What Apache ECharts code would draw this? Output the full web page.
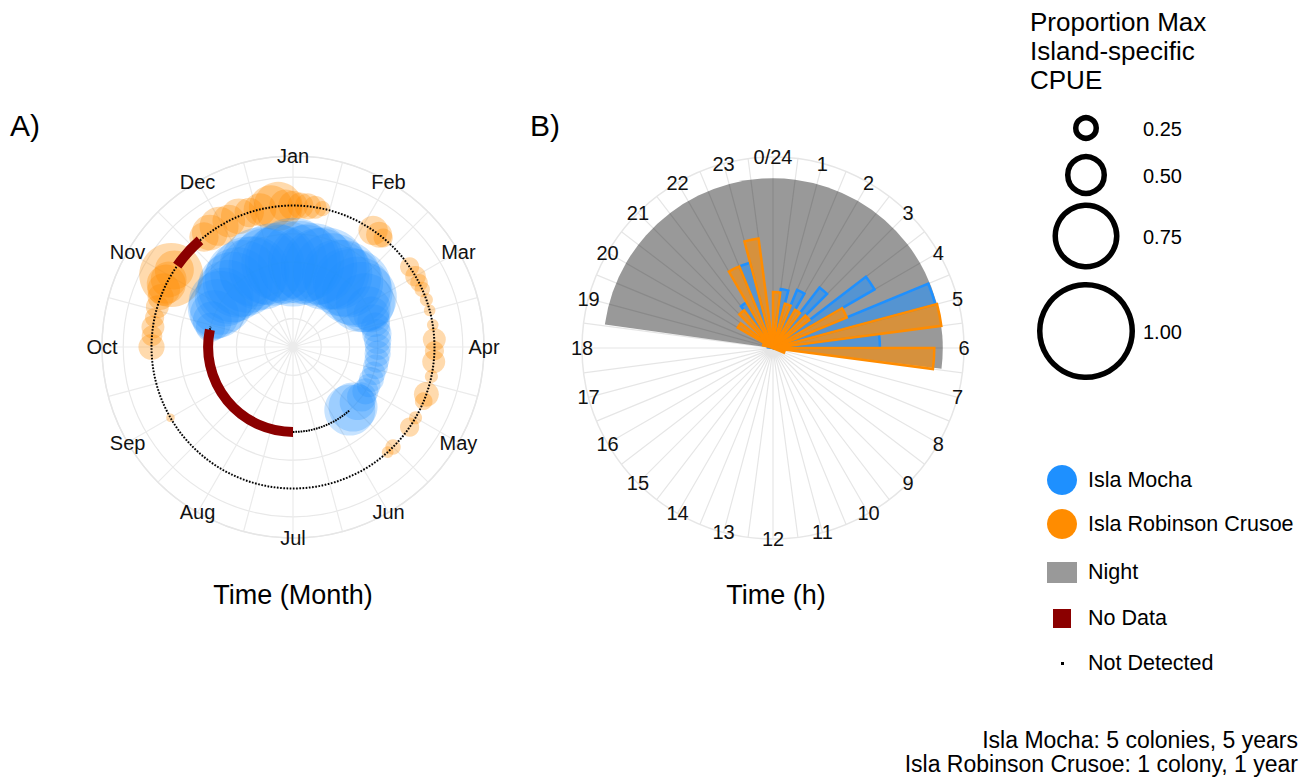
<!DOCTYPE html>
<html>
<head>
<meta charset="utf-8">
<script src="https://cdn.jsdelivr.net/npm/echarts@6/dist/echarts.min.js"></script>
<style>
  html, body { margin: 0; padding: 0; background: #fff; }
  #chart { width: 1306px; height: 778px; }
</style>
</head>
<body>
<div id="chart"></div>
<script>
// ---- panel A: month position (Jan = 0) and proportion of max island CPUE ----
const monthLabels = ['Jan', 'Feb', 'Mar', 'Apr', 'May', 'Jun', 'Jul', 'Aug', 'Sep', 'Oct', 'Nov', 'Dec'];

const mochaMonth = [9.45, 9.6, 9.75, 9.9, 10.05, 10.2, 10.35, 10.5, 10.65, 10.8, 10.95, 11.1, 11.25, 11.4, 11.55, 11.7, 11.85,
  0, 0.15, 0.3, 0.45, 0.6, 0.75, 0.9, 1.05, 1.2, 1.35, 1.5, 1.65, 1.8, 1.95, 2.1, 2.25, 2.4, 2.55, 2.7, 2.85,
  3.0, 3.15, 3.3, 3.45, 3.6, 3.75, 3.9, 4.05, 4.2, 4.35, 4.5, 4.6];
const mochaSize = [0.35, 0.5, 0.6, 0.7, 0.75, 0.7, 0.75, 0.8, 0.8, 0.85, 0.85, 0.8, 0.9, 0.85, 0.9, 0.85, 0.9,
  0.95, 0.9, 0.85, 0.9, 0.85, 0.9, 0.85, 0.8, 0.85, 0.8, 0.85, 0.8, 0.8, 0.7, 0.55, 0.45, 0.4, 0.35, 0.35, 0.32,
  0.3, 0.3, 0.28, 0.28, 0.26, 0.28, 0.26, 0.3, 0.35, 0.45, 0.6, 0.62];

const robinsonMonth = [8.0, 9.0, 9.15, 9.27, 9.4, 9.55, 9.69, 9.8, 9.88, 9.95, 10.02, 10.1, 10.7, 10.8, 10.95, 11.1,
  11.25, 11.4, 11.55, 11.7, 11.8, 11.9, 0.0, 0.1, 0.2, 0.3, 0.4, 1.15, 1.25, 1.32, 1.85, 2.0, 2.1, 2.2, 2.35, 2.5,
  2.7, 2.9, 3.05, 3.2, 3.4, 3.65, 3.75, 4.0, 4.15, 4.5, 4.6];
const robinsonSize = [0.06, 0.3, 0.22, 0.25, 0.2, 0.25, 0.3, 0.4, 0.5, 0.45, 0.75, 0.5, 0.35, 0.45, 0.5, 0.4,
  0.45, 0.35, 0.4, 0.55, 0.6, 0.4, 0.35, 0.3, 0.3, 0.25, 0.15, 0.35, 0.3, 0.2, 0.2, 0.22, 0.18, 0.15, 0.12, 0.1,
  0.1, 0.25, 0.2, 0.25, 0.12, 0.28, 0.18, 0.12, 0.2, 0.15, 0.1];

// [from, to] in months, drawn clockwise
const mochaNoData = [[6.0, 9.39]];
const mochaNotDetected = [[4.62, 6.0], [9.39, 9.46]];
const robinsonNoData = [[10.17, 10.63]];
const robinsonNotDetected = [[10.63, 10.17]];

// radial position of each island in panel A
const MOCHA_R = 1;
const ROBINSON_R = 2;

// ---- panel B: hour of day ----
const hourLabels = ['0/24', '1', '2', '3', '4', '5', '6', '7', '8', '9', '10', '11',
  '12', '13', '14', '15', '16', '17', '18', '19', '20', '21', '22', '23'];
const hourCats = hourLabels.map((t, i) => String(i));
const mochaHour = [0, 0.35, 0.37, 0.45, 0.69, 0.99, 0.63, 0.04, 0, 0, 0, 0,
  0, 0, 0, 0, 0, 0, 0, 0.03, 0.05, 0.1, 0.31, 0.52];
const robinsonHour = [0.33, 0.27, 0.26, 0.27, 0.47, 1.0, 0.95, 0.07, 0, 0, 0, 0,
  0, 0, 0, 0, 0, 0, 0, 0.06, 0.24, 0.28, 0.52, 0.65];
const night = [[18.53, 6.47]];

const sizeBreaks = [0.25, 0.5, 0.75, 1.0];
const sizeBreakLabels = ['0.25', '0.50', '0.75', '1.00'];

// ---- styling ----
const FONT = '"Liberation Sans", Arial, sans-serif';
const BLUE = '#1E90FF';
const ORANGE = '#FF8C00';
const A_MAX = 2.875;
const B_MAX = 1.125;

// proportion -> point diameter (px)
const sizeStops = [[0, 4], [0.25, 23], [0.5, 39], [0.75, 64], [1, 95]];
function sizePx(v) {
  for (let i = 1; i < sizeStops.length; i++) {
    if (v <= sizeStops[i][0]) {
      const [x0, y0] = sizeStops[i - 1];
      const [x1, y1] = sizeStops[i];
      return y0 + (y1 - y0) * (v - x0) / (x1 - x0);
    }
  }
  return sizeStops[sizeStops.length - 1][1];
}

function screenAngles(params, api) {
  const cs = params.coordSys;
  const p1 = api.coord([api.value(0), api.value(1)]);
  const p2 = api.coord([api.value(0), api.value(2)]);
  const r = Math.hypot(p1[0] - cs.cx, p1[1] - cs.cy);
  const a1 = Math.atan2(p1[1] - cs.cy, p1[0] - cs.cx);
  let a2 = Math.atan2(p2[1] - cs.cy, p2[0] - cs.cx);
  if (a2 <= a1) a2 += Math.PI * 2;
  return { cx: cs.cx, cy: cs.cy, r, a1, a2 };
}

function arcSeries(polarIndex, ranges, radius, style) {
  return {
    type: 'custom',
    coordinateSystem: 'polar',
    polarIndex,
    silent: true,
    z: 5,
    data: ranges.map(d => [radius, d[0], d[1]]),
    encode: { radius: 0, angle: 1 },
    renderItem: (params, api) => {
      const g = screenAngles(params, api);
      return {
        type: 'arc',
        shape: { cx: g.cx, cy: g.cy, r: g.r, startAngle: g.a1, endAngle: g.a2, clockwise: true },
        style: Object.assign({ fill: 'none' }, style)
      };
    }
  };
}

function labelSeries(polarIndex, labels, radius, step) {
  return {
    type: 'scatter',
    coordinateSystem: 'polar',
    polarIndex,
    silent: true,
    z: 6,
    symbolSize: 1,
    itemStyle: { color: 'rgba(0,0,0,0)', opacity: 1 },
    data: labels.map((t, i) => ({ name: t, value: [radius, i * step] })),
    label: { show: true, position: 'inside', formatter: '{b}', fontSize: 20, color: '#111', opacity: 1,
      fontFamily: FONT, textBorderWidth: 0 }
  };
}

const hiddenAxis = {
  axisLine: { show: false }, axisTick: { show: false }, axisLabel: { show: false }, splitLine: { show: false }
};

// legend graphics
const graphics = [];
function text(x, y, str, size, align, lineHeight) {
  graphics.push({
    type: 'text', x, y, silent: true,
    style: { text: str, font: size + 'px ' + FONT, fill: '#000', align: align || 'left', textAlign: align || 'left',
      verticalAlign: 'middle', textVerticalAlign: 'middle', lineHeight: lineHeight }
  });
}
text(10, 125, 'A)', 30);
text(530, 125, 'B)', 30);
text(293, 595, 'Time (Month)', 27, 'center');
text(776, 595, 'Time (h)', 27, 'center');
text(1030, 51, 'Proportion Max\nIsland-specific\nCPUE', 26, 'left', 29);

const sizeLegendY = [128, 175, 236, 331];
sizeBreaks.forEach((v, i) => {
  graphics.push({
    type: 'circle', silent: true,
    shape: { cx: 1086, cy: sizeLegendY[i], r: (sizePx(v) + 3 - 5.5) / 2 },
    style: { fill: 'none', stroke: '#000', lineWidth: 5.5 }
  });
  text(1143, sizeLegendY[i] + 1, sizeBreakLabels[i], 20);
});

graphics.push({ type: 'circle', silent: true, shape: { cx: 1062, cy: 480, r: 15 }, style: { fill: BLUE } });
graphics.push({ type: 'circle', silent: true, shape: { cx: 1062, cy: 524, r: 15 }, style: { fill: ORANGE } });
graphics.push({ type: 'rect', silent: true, shape: { x: 1047, y: 562, width: 30, height: 21 }, style: { fill: '#999999' } });
graphics.push({ type: 'rect', silent: true, shape: { x: 1053, y: 609, width: 18, height: 19 }, style: { fill: '#8B0000' } });
graphics.push({ type: 'rect', silent: true, shape: { x: 1061, y: 662, width: 3, height: 3 }, style: { fill: '#000' } });
text(1088, 480, 'Isla Mocha', 21.5);
text(1088, 524, 'Isla Robinson Crusoe', 21.5);
text(1088, 572, 'Night', 21.5);
text(1088, 618, 'No Data', 21.5);
text(1088, 663, 'Not Detected', 21.5);

text(1298, 740, 'Isla Mocha: 5 colonies, 5 years', 23, 'right');
text(1298, 764, 'Isla Robinson Crusoe: 1 colony, 1 year', 23, 'right');

const chart = echarts.init(document.getElementById('chart'), null, { renderer: 'svg' });

const option = {
  animation: false,
  backgroundColor: '#fff',
  textStyle: { fontFamily: FONT },
  polar: [
    { center: [293, 347], radius: 191 },
    { center: [773, 348], radius: 191 },
    { center: [773, 348], radius: 191 }
  ],
  angleAxis: [
    {
      polarIndex: 0, type: 'value', min: 0, max: 12, interval: 0.5, startAngle: 90, clockwise: true,
      axisLine: { show: true, lineStyle: { color: '#E6E6E6', width: 1.5 } },
      axisTick: { show: false }, axisLabel: { show: false },
      splitLine: { show: true, lineStyle: { color: '#EBEBEB', width: 1.2 } }
    },
    {
      polarIndex: 1, type: 'value', min: 0, max: 24, interval: 0.5, startAngle: 90, clockwise: true, z: 1,
      axisLine: { show: true, lineStyle: { color: '#E6E6E6', width: 1.5 } },
      axisTick: { show: false }, axisLabel: { show: false },
      splitLine: { show: true, lineStyle: { color: 'rgba(0,0,0,0.1)', width: 1.2 } }
    },
    Object.assign({ polarIndex: 2, type: 'category', data: hourCats, startAngle: 97.5, clockwise: true }, hiddenAxis)
  ],
  radiusAxis: [
    {
      polarIndex: 0, type: 'value', min: -0.5, max: A_MAX, interval: 0.5,
      axisLine: { show: false }, axisTick: { show: false }, axisLabel: { show: false },
      splitLine: { show: true, lineStyle: { color: '#E8E8E8', width: 1.2 } }
    },
    Object.assign({ polarIndex: 1, type: 'value', min: 0, max: B_MAX }, hiddenAxis),
    Object.assign({ polarIndex: 2, type: 'value', min: 0, max: B_MAX }, hiddenAxis)
  ],
  series: [
    // panel A points
    {
      type: 'scatter', coordinateSystem: 'polar', polarIndex: 0, silent: true, z: 3,
      data: robinsonMonth.map((m, i) => [ROBINSON_R, m, robinsonSize[i]]),
      symbolSize: v => sizePx(v[2]),
      itemStyle: { color: ORANGE, opacity: 0.32 }
    },
    {
      type: 'scatter', coordinateSystem: 'polar', polarIndex: 0, silent: true, z: 3,
      data: mochaMonth.map((m, i) => [MOCHA_R, m, mochaSize[i]]),
      symbolSize: v => sizePx(v[2]),
      itemStyle: { color: BLUE, opacity: 0.25 }
    },
    arcSeries(0, robinsonNotDetected, ROBINSON_R, { stroke: '#000', lineWidth: 2, lineDash: [1.6, 1.6] }),
    arcSeries(0, mochaNotDetected, MOCHA_R, { stroke: '#000', lineWidth: 2, lineDash: [1.6, 1.0] }),
    arcSeries(0, robinsonNoData, ROBINSON_R, { stroke: '#8B0000', lineWidth: 10 }),
    arcSeries(0, mochaNoData, MOCHA_R, { stroke: '#8B0000', lineWidth: 10 }),
    labelSeries(0, monthLabels, A_MAX, 1),

    // panel B night wedge
    {
      type: 'custom', coordinateSystem: 'polar', polarIndex: 1, silent: true, z: -1,
      data: night.map(d => [1, d[0], d[1]]),
      encode: { radius: 0, angle: 1 },
      renderItem: (params, api) => {
        const g = screenAngles(params, api);
        return {
          type: 'sector',
          shape: { cx: g.cx, cy: g.cy, r0: 0, r: g.r, startAngle: g.a1, endAngle: g.a2, clockwise: true },
          style: { fill: '#999999' }
        };
      }
    },
    {
      type: 'bar', coordinateSystem: 'polar', polarIndex: 2, name: 'Isla Mocha',
      data: mochaHour, barGap: '0%', barCategoryGap: '0%', silent: true,
      itemStyle: { color: 'rgba(30,144,255,0.55)', borderColor: BLUE, borderWidth: 2.5 }
    },
    {
      type: 'bar', coordinateSystem: 'polar', polarIndex: 2, name: 'Isla Robinson Crusoe',
      data: robinsonHour, barGap: '0%', barCategoryGap: '0%', silent: true,
      itemStyle: { color: 'rgba(255,140,0,0.6)', borderColor: ORANGE, borderWidth: 2.5 }
    },
    labelSeries(1, hourLabels, B_MAX, 1)
  ],
  graphic: graphics
};

chart.setOption(option);
</script>
</body>
</html>
